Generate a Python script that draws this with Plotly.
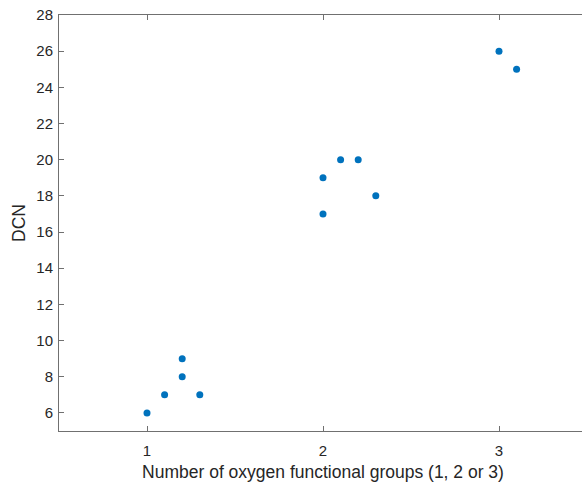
import plotly.graph_objects as go

n_groups = [1, 1.1, 1.3, 1.2, 1.2, 2, 2, 2.1, 2.2, 2.3, 3, 3.1]
dcn = [6, 7, 7, 8, 9, 17, 19, 20, 20, 18, 26, 25]
x_ticks = [1, 2, 3]
y_ticks = [6, 8, 10, 12, 14, 16, 18, 20, 22, 24, 26, 28]

fig = go.Figure(go.Scatter(
    x=n_groups, y=dcn, mode="markers",
    marker=dict(color="#0072BD", size=7, line=dict(width=0)),
))

axis_common = dict(
    showgrid=False, zeroline=False, showline=True, mirror="ticks",
    linecolor="#707070", linewidth=1, ticks="inside", ticklen=5,
    tickcolor="#707070", tickwidth=1,
    tickfont=dict(family="Liberation Sans", size=15, color="#262626"),
    title_font=dict(family="Liberation Sans", size=17.5, color="#262626"),
)

fig.update_layout(
    width=588, height=482,
    margin=dict(l=59, r=1, t=15, b=51),
    paper_bgcolor="white", plot_bgcolor="white",
    showlegend=False,
    xaxis=dict(range=[0.5, 3.5], tickvals=x_ticks, ticklabelstandoff=6,
               title=dict(text="Number of oxygen functional groups (1, 2 or 3)", standoff=10),
               **axis_common),
    yaxis=dict(range=[5, 28], tickvals=y_ticks, ticklabelstandoff=2,
               title=dict(text="DCN", standoff=6),
               **axis_common),
)

fig.write_html("out.html", post_script="document.documentElement.style.overflow='hidden';document.body.style.overflow='hidden';")
